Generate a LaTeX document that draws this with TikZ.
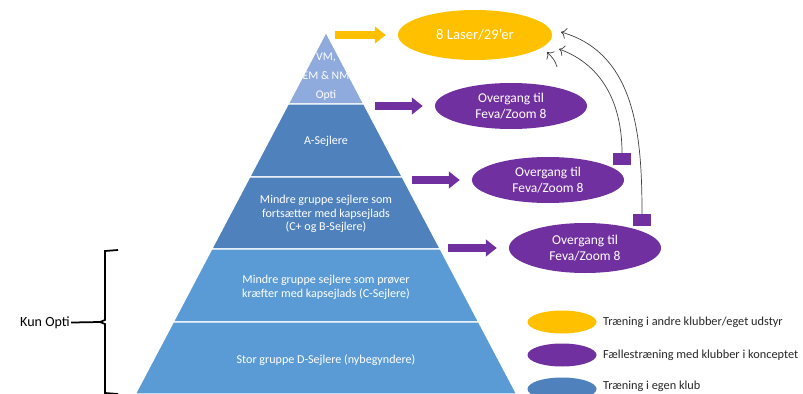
\documentclass[tikz,border=0pt]{standalone}
\usepackage{fontspec}
\setmainfont{Carlito}
\usetikzlibrary{arrows.meta,positioning,shapes.geometric}
\definecolor{goldy}{HTML}{FFC000}
\definecolor{plum}{HTML}{7030A0}
\definecolor{paleblue}{HTML}{8FAADC}
\definecolor{deepblue}{HTML}{4F81BD}
\definecolor{midblue}{HTML}{5B9BD5}
\definecolor{inkgray}{HTML}{262626}
\begin{document}
\begin{tikzpicture}[x=0.03cm, y=0.03cm,
  level/.style = {draw=white, line width=1.2pt},
  tier/.style = {text=white, align=center, inner sep=0pt,
    font=\fontsize{10.3}{11.8}\selectfont},
  goal/.style = {ellipse, fill=#1, text=white, align=center, inner sep=0pt,
    minimum width=4.56cm, minimum height=1.38cm,
    font=\fontsize{11.5}{13.6}\selectfont},
  barrow/.style = {draw=#1, line width=0.24cm,
    -{Triangle[length=0.33cm, width=0.5cm]}, shorten >=0.36cm},
  tab/.style = {rectangle, fill=plum, inner sep=0pt,
    minimum width=0.54cm, minimum height=0.36cm},
  curve/.style = {draw=black!75, line width=0.6pt, -{To[length=1.6mm]}},
  swatch/.style = {ellipse, fill=#1, inner sep=0pt,
    minimum width=2.07cm, minimum height=0.69cm},
  keytext/.style = {text=inkgray, inner sep=1pt,
    font=\fontsize{10.5}{12}\selectfont},
  brace/.style = {draw=black, line width=1.5pt}]
\useasboundingbox (0,0) rectangle (803,-394);
% pyramid
\draw[level, fill=paleblue] (326,-32) -- (363.9,-104) -- (288.1,-104) -- cycle;
\draw[level, fill=deepblue] (288.1,-104) -- (363.9,-104) -- (402.4,-177) -- (249.6,-177) -- cycle;
\draw[level, fill=deepblue] (249.6,-177) -- (402.4,-177) -- (440.4,-249) -- (211.6,-249) -- cycle;
\draw[level, fill=midblue] (211.6,-249) -- (440.4,-249) -- (478.8,-322) -- (173.2,-322) -- cycle;
\draw[level, fill=midblue] (173.2,-322) -- (478.8,-322) -- (516.8,-394) -- (135.2,-394) -- cycle;
\node[tier, font=\fontsize{10}{16.2}\selectfont] (lvtop) at (326,-77) {VM,\\EM \& NM\\Opti};
\node[tier] (lva) at (326,-141) {A-Sejlere};
\node[tier] (lvb) at (326,-214) {Mindre gruppe sejlere som\\fortsætter med kapsejlads\\(C+ og B-Sejlere)};
\node[tier, font=\fontsize{10.3}{12}\selectfont] (lvc) at (326,-287) {Mindre gruppe sejlere som prøver\\kræfter med kapsejlads (C-Sejlere)};
\node[tier] (lvd) at (326,-360) {Stor gruppe D-Sejlere (nybegyndere)};
% goals
\node[goal=goldy, minimum width=4.62cm, minimum height=1.5cm,
  font=\fontsize{12.5}{15}\selectfont] (laser) at (475,-35) {8 Laser/29’er};
\node[goal=plum] (feva1) at (511,-106) {Overgang til\\Feva/Zoom 8};
\node[goal=plum] (feva2) at (548,-180) {Overgang til\\Feva/Zoom 8};
\node[goal=plum, minimum height=1.5cm] (feva3) at (585,-248) {Overgang til\\Feva/Zoom 8};
\coordinate (s0) at (335,-35);
\coordinate (s1) at (375,-106);
\coordinate (s2) at (412,-180);
\coordinate (s3) at (448,-248);
\draw[barrow=goldy] (s0) -- (laser.west);
\draw[barrow=plum] (s1) -- (feva1.west);
\draw[barrow=plum] (s2) -- (feva2.west);
\draw[barrow=plum] (s3) -- (feva3.west);
% moving up
\node[tab] (tab1) at (622,-159) {};
\node[tab] (tab2) at (642,-220) {};
\coordinate (e1) at (559,-49);
\coordinate (e2) at (561,-32);
\coordinate (s4) at (557,-67);
\coordinate (e3) at (547,-52);
\draw[curve] (tab1.north) to[out=90,in=-20] (e1);
\draw[curve] (tab2.north) to[out=90,in=-16] (e2);
\draw[curve] (s4) to[out=105,in=-45] (e3);
% Kun Opti
\node[inner sep=1pt, font=\fontsize{12}{14}\selectfont] (kun) at (45,-323) {Kun Opti};
\draw[brace] (118,-250) -- (105,-251) -- (105,-320) -- (100,-322) coordinate (notch)
  -- (105,-324) -- (105,-393) -- (118,-394);
\draw[brace] (kun) -- (notch);
% legend
\node[swatch=goldy] (key1) at (562,-322) {};
\node[swatch=plum] (key2) at (562,-355) {};
\node[swatch=deepblue] (key3) at (562,-389) {};
\node[keytext, right=0.15cm of key1] (txt1) {Træning i andre klubber/eget udstyr};
\node[keytext, right=0.15cm of key2] (txt2) {Fællestræning med klubber i konceptet};
\node[keytext, right=0.15cm of key3, yshift=0.09cm] (txt3) {Træning i egen klub};
\end{tikzpicture}
\end{document}
